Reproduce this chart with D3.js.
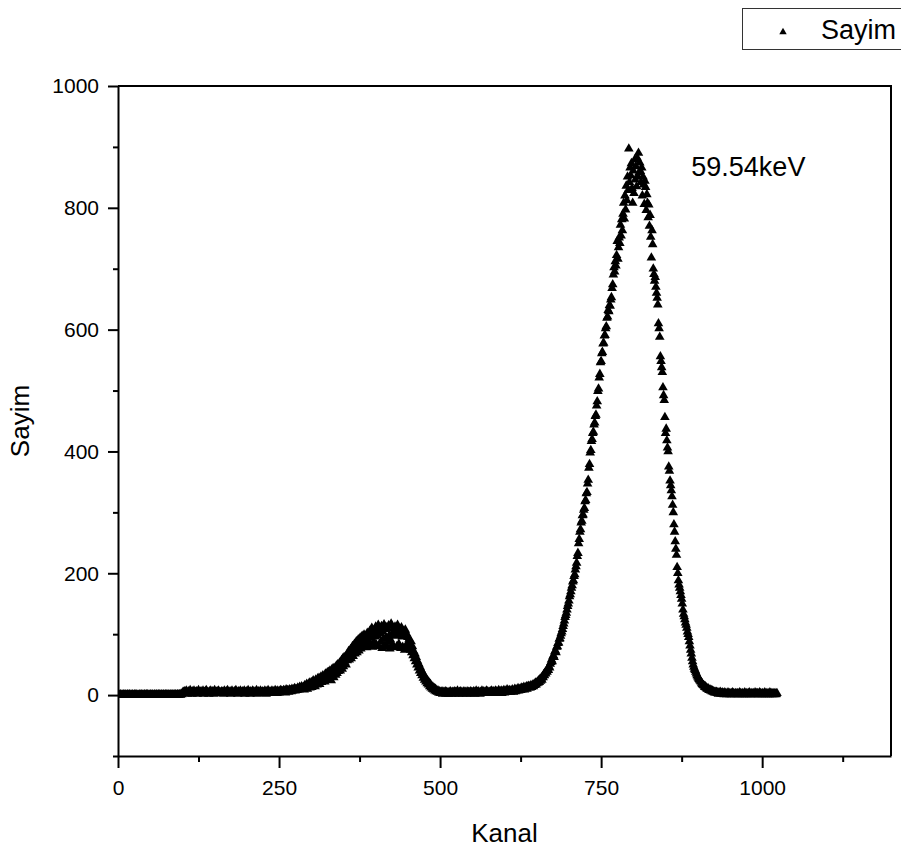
<!DOCTYPE html>
<html>
<head>
<meta charset="utf-8">
<script src="https://cdn.jsdelivr.net/npm/d3@7"></script>
<style>
  body { margin: 0; background: #fff; }
  svg { display: block; font-family: 'Liberation Sans', Arial, sans-serif; }
</style>
</head>
<body>
<div id="chart"></div>
<script>
// counts per channel (channel = index)
const countsFlat = [
  0,1,0,0,1,0,0,0,1,0,0,1,0,0,0,1,0,0,1,0,0,0,1,0,0,0,1,0,1,0,0,0,
  0,0,1,0,0,1,0,0,0,1,0,0,1,0,1,0,0,0,1,0,0,1,0,0,0,1,0,0,1,0,0,1,
  0,1,0,0,1,0,0,1,0,0,1,0,1,0,0,1,0,0,1,0,1,0,0,1,0,1,0,0,1,1,0,1,
  1,0,2,1,3,5,4,6,3,5,7,4,2,6,5,3,8,4,5,2,6,4,7,3,5,4,6,2,5,8,4,3,
  5,6,3,4,7,2,5,4,6,8,3,5,4,2,6,5,7,3,4,6,5,2,8,4,3,5,6,4,7,3,5,4,
  3,6,5,4,2,7,5,3,6,4,8,5,3,4,6,2,5,7,4,3,5,6,4,8,3,5,2,6,4,5,7,3,
  4,6,3,5,7,2,4,6,5,3,8,4,5,2,6,3,5,7,4,6,3,5,4,8,2,5,6,4,3,7,5,4,
  6,3,5,4,7,5,2,6,4,8,5,3,6,4,5,7,3,6,5,4,8,5,6,3,7,5,4,6,8,5,7,6
];
const countsBump = [
  5,8,6,7,4,9,6,8,7,5,9,7,8,6,10,7,9,8,11,7,10,9,8,12,10,9,13,11,10,14,12,11,
  13,9,16,11,15,18,10,17,14,20,12,18,21,13,19,24,15,22,14,25,19,17,27,20,28,18,24,30,21,27,32,23,
  29,22,35,26,33,37,25,38,28,40,33,24,42,31,44,29,41,45,33,48,36,50,39,47,53,40,51,57,43,60,47,62,
  54,62,50,66,57,63,72,58,68,75,60,71,80,64,77,84,68,79,88,70,83,91,73,86,94,76,87,97,80,92,99,83,
  89,97,78,102,91,82,99,105,84,95,110,79,100,87,107,96,112,83,103,98,115,80,106,101,88,113,77,104,92,116,81,108,
  95,111,79,87,114,98,76,91,117,100,82,109,103,78,112,97,105,80,115,99,84,108,101,77,111,96,79,104,98,74,107,81,
  101,82,95,78,92,85,74,88,70,80,65,72,60,68,55,62,50,56,45,51,40,46,36,41,32,37,28,33,25,29,22,26,
  19,23,17,20,14,18,12,15,10,13,9,11,7,10,6,8,5,7,4,6,3,5,4,6,2,5,3,4,6,2,5,3
];
const countsValley = [
  4,2,5,3,6,4,2,5,3,4,6,2,5,3,4,7,3,2,5,4,6,3,5,2,4,6,3,5,4,2,6,3,
  5,3,4,6,2,5,4,3,6,5,2,4,7,3,5,4,6,3,2,5,4,7,3,5,6,4,3,5,7,4,6,3,
  5,4,6,3,7,5,4,6,3,5,7,4,6,5,3,8,4,6,5,7,3,6,5,8,4,7,5,6,9,5,7,6,
  8,5,7,6,9,7,5,8,10,6,9,7,8,11,7,9,10,8,12,9,11,10,13,9,12,11,14,10,13,15,12,14,
  12,16,13,15,17,14,18,16,20,17,19,22,20,24,21,26,23,28,25,31,29,34,32,37,35,40,38,43,41,47,45,51
];
const countsPeak = [
  54,58,55,63,65,62,71,73,70,79,80,85,86,92,93,97,101,104,108,113,117,122,128,131,135,140,146,150,155,162,165,170,
  176,180,186,188,195,198,206,211,217,228,233,249,256,268,272,283,286,295,296,304,307,318,320,331,333,347,353,373,379,398,402,417,
  420,430,432,444,447,458,460,475,482,499,503,521,527,546,548,561,563,577,578,590,591,602,605,619,621,632,630,640,639,649,653,668,
  674,690,702,695,712,705,722,745,716,735,751,742,772,754,781,763,790,808,782,820,797,836,812,851,829,897,842,866,853,873,832,808,
  861,824,879,846,868,835,882,851,890,858,874,860,842,866,820,851,838,806,844,834,796,822,808,784,805,770,788,752,718,763,740,700,
  691,680,686,670,660,652,641,610,602,588,556,548,538,530,505,492,484,456,430,437,418,406,400,375,368,352,344,336,326,312,300,280,
  268,252,240,230,210,200,188,181,176,170,164,158,150,140,133,129,124,119,115,110,104,100,95,88,81,74,68,61,55,50,46,43
];
const countsTail = [
  41,38,35,32,30,28,26,25,23,22,20,18,17,16,15,13,14,12,11,10,11,9,8,9,7,8,6,7,5,6,4,5,
  4,5,3,4,2,4,3,5,2,3,4,2,3,1,4,2,3,1,2,4,2,3,1,2,3,1,4,2,3,1,2,3,
  2,1,3,2,1,4,2,3,1,2,3,1,2,4,1,3,2,1,3,2,4,1,2,3,1,2,3,2,1,4,2,3,
  1,3,2,1,4,2,3,1,2,3,1,2,4,1,3,2,1,3,2,1,4,2,3,1,2,3,1,2,3,1,2,3
];

const xMajorTicks = [0, 250, 500, 750, 1000];
const xMinorTicks = [125, 375, 625, 875, 1125];
const yMajorTicks = [0, 200, 400, 600, 800, 1000];
const yMinorTicks = [-100, 100, 300, 500, 700, 900];

const seriesName = 'Sayim';
const xTitle = 'Kanal';
const yTitle = 'Sayim';
const peakLabel = '59.54keV';
const peakLabelAt = [890, 852];

const counts = [].concat(countsFlat, countsBump, countsValley, countsPeak, countsTail);
const points = counts.map((c, i) => ({ channel: i, count: c }));

const width = 901;
const height = 858;
const plot = { left: 118, right: 891, top: 86, bottom: 756 };

const svg = d3.select('#chart')
  .append('svg')
  .attr('width', width)
  .attr('height', height);

const x = d3.scaleLinear().domain([0, 1200]).range([plot.left, plot.right]);
const y = d3.scaleLinear().domain([-100, 1000]).range([plot.bottom, plot.top]);

svg.append('clipPath')
  .attr('id', 'plotClip')
  .append('rect')
  .attr('x', plot.left)
  .attr('y', plot.top)
  .attr('width', plot.right - plot.left)
  .attr('height', plot.bottom - plot.top);

const triangle = d3.symbol().type(d3.symbolTriangle).size(40);

svg.append('g')
  .attr('clip-path', 'url(#plotClip)')
  .selectAll('path')
  .data(points)
  .enter().append('path')
  .attr('d', triangle)
  .attr('transform', d => `translate(${x(d.channel)},${y(d.count)})`)
  .style('fill', '#000');

// frame: top and right
svg.append('path')
  .attr('d', `M${plot.left},${plot.top}H${plot.right}V${plot.bottom}`)
  .style('fill', 'none')
  .style('stroke', '#000')
  .style('stroke-width', 2);

const styleAxis = (g, fontSize) => {
  g.selectAll('line').style('stroke', '#000').style('stroke-width', 2);
  g.selectAll('path.domain').style('stroke', '#000').style('stroke-width', 2);
  g.selectAll('text')
    .style('font-family', "'Liberation Sans', Arial, sans-serif")
    .style('font-size', `${fontSize}px`)
    .style('fill', '#000');
};

// x axis
svg.append('g')
  .attr('transform', `translate(0,${plot.bottom})`)
  .call(d3.axisBottom(x).tickValues(xMinorTicks).tickSize(6).tickFormat(''))
  .call(g => g.select('.domain').remove())
  .call(g => styleAxis(g, 21));

svg.append('g')
  .attr('transform', `translate(0,${plot.bottom})`)
  .call(d3.axisBottom(x).tickValues(xMajorTicks).tickSize(12).tickSizeOuter(0)
    .tickPadding(12).tickFormat(d3.format('d')))
  .call(g => styleAxis(g, 21));

// y axis
svg.append('g')
  .attr('transform', `translate(${plot.left},0)`)
  .call(d3.axisLeft(y).tickValues(yMinorTicks).tickSize(5).tickFormat(''))
  .call(g => g.select('.domain').remove())
  .call(g => styleAxis(g, 21));

svg.append('g')
  .attr('transform', `translate(${plot.left},0)`)
  .call(d3.axisLeft(y).tickValues(yMajorTicks).tickSize(10).tickSizeOuter(0)
    .tickPadding(9).tickFormat(d3.format('d')))
  .call(g => styleAxis(g, 21));

// titles
svg.append('text')
  .attr('x', (plot.left + plot.right) / 2)
  .attr('y', 842)
  .attr('text-anchor', 'middle')
  .style('font-size', '26px')
  .text(xTitle);

svg.append('text')
  .attr('transform', `translate(29,${(plot.top + plot.bottom) / 2}) rotate(-90)`)
  .attr('text-anchor', 'middle')
  .style('font-size', '26px')
  .text(yTitle);

svg.append('text')
  .attr('x', x(peakLabelAt[0]))
  .attr('y', y(peakLabelAt[1]))
  .style('font-size', '27px')
  .text(peakLabel);

// legend
const legend = svg.append('g');
legend.append('rect')
  .attr('x', 742.5)
  .attr('y', 8.5)
  .attr('width', 200)
  .attr('height', 41)
  .style('fill', '#fff')
  .style('stroke', '#333')
  .style('stroke-width', 1);
legend.append('path')
  .attr('d', d3.symbol().type(d3.symbolTriangle).size(24))
  .attr('transform', 'translate(783,32)')
  .style('fill', '#000');
legend.append('text')
  .attr('x', 821)
  .attr('y', 39)
  .style('font-size', '27px')
  .text(seriesName);
</script>
</body>
</html>
